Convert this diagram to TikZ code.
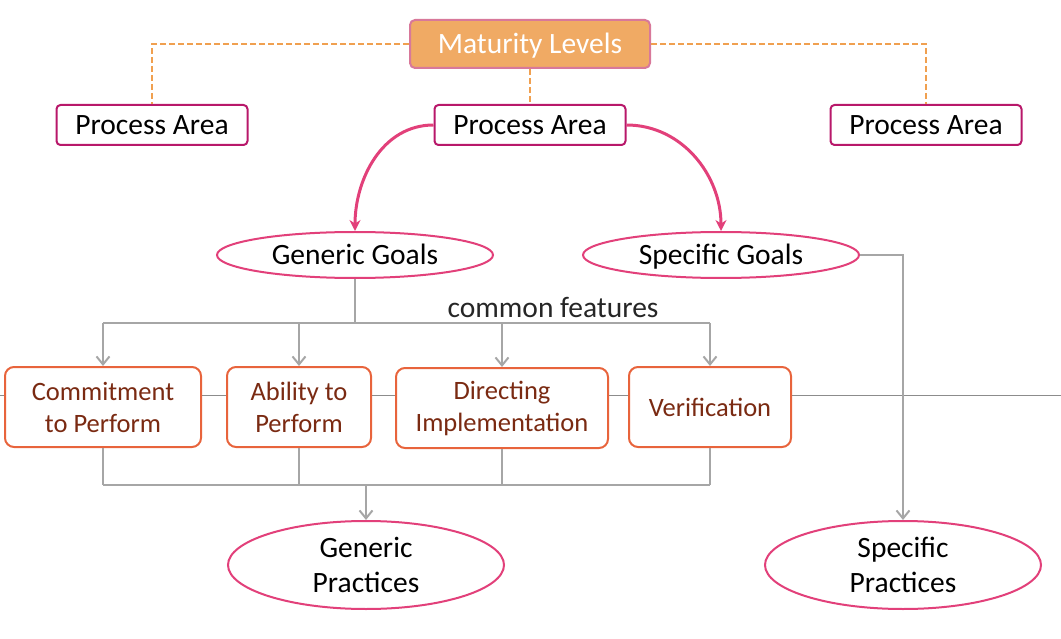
\documentclass[tikz,border=0pt]{standalone}
\usepackage{fontspec}
\setmainfont{Carlito}
\usetikzlibrary{shapes.geometric,arrows.meta}

\definecolor{mlfill}{HTML}{F0AA64}
\definecolor{mlline}{HTML}{D8789A}
\definecolor{paline}{HTML}{B8186A}
\definecolor{goalline}{HTML}{E2407A}
\definecolor{cfline}{HTML}{E8643C}
\definecolor{cftext}{HTML}{7A2A12}
\definecolor{linkgray}{HTML}{A6A6A6}
\definecolor{dashorange}{HTML}{F0A050}

\tikzset{
  pabox/.style={draw=paline, line width=2pt, rounded corners=4pt, fill=white,
    minimum width=191pt, minimum height=40pt, inner sep=0pt,
    text height=22pt, text depth=2pt,
    font=\fontsize{29.5}{34}\selectfont},
  goal/.style={ellipse, draw=goalline, line width=2pt, fill=white,
    minimum width=276pt, minimum height=46pt, inner sep=0pt,
    text height=22pt, text depth=2pt,
    font=\fontsize{29.5}{35}\selectfont},
  practice/.style={ellipse, draw=goalline, line width=2pt, fill=white,
    minimum width=276pt, minimum height=88pt, inner sep=0pt, align=center,
    font=\fontsize{29.5}{35}\selectfont},
  featbox/.style={draw=cfline, line width=2pt, rounded corners=9pt, fill=white,
    minimum height=80pt, inner sep=0pt, align=center, text=cftext,
    font=\fontsize{26.5}{32}\selectfont},
  graylink/.style={draw=linkgray, line width=2pt},
  grayarrow/.style={graylink, -{Straight Barb[length=8pt,width=13pt,line width=2pt]}},
  pinkarrow/.style={draw=goalline, line width=3pt, -{Stealth[length=11pt,width=11pt]}},
  dashlink/.style={draw=dashorange, line width=2.2pt, dash pattern=on 6pt off 3pt}
}

\begin{document}
\begin{tikzpicture}[x=1pt, y=-1pt]
    \useasboundingbox (0,0) rectangle (1061,639);

    % thin rule behind the feature row
    \draw[gray!90, line width=0.8pt] (0,395) -- (1061,395);

    % maturity levels and process areas
    \node[draw=mlline, line width=2pt, fill=mlfill, rounded corners=5pt, text=white,
      minimum width=240pt, minimum height=48pt, inner sep=0pt,
      text height=22pt, text depth=2pt,
      font=\fontsize{29.5}{34}\selectfont] (ml) at (530,44) {Maturity Levels};
    \node[pabox] (paL) at (152,125) {Process Area};
    \node[pabox] (paM) at (530,125) {Process Area};
    \node[pabox] (paR) at (926,125) {Process Area};

    \draw[dashlink] (ml.west) -| (paL.north);
    \draw[dashlink] (ml.east) -| (paR.north);
    \draw[dashlink] (ml.south) -- (paM.north);

    % goals
    \node[goal] (gg) at (355,255) {Generic Goals};
    \node[goal] (sg) at (721,255) {Specific Goals};

    \draw[pinkarrow] (paM.west) to[out=180, in=90] (gg.north);
    \draw[pinkarrow] (paM.east) to[out=0, in=90] (sg.north);

    % common features
    \node[featbox, minimum width=196pt] (commit) at (103,407) {Commitment\\to Perform};
    \node[featbox, minimum width=144pt] (ability) at (299,407) {Ability to\\Perform};
    \node[featbox, minimum width=212pt] (direct) at (502,408) {Directing\\Implementation};
    \node[featbox, minimum width=162pt] (verif) at (710,407) {Verification};

    \coordinate (split) at (355,323);
    \draw[graylink] (gg.south) -- (split);
    \draw[graylink] (commit.north |- split) -- (verif.north |- split);
    \node[font=\fontsize{29.5}{34}\selectfont, text=black!85, anchor=south] (cf) at (553,321) {common features};
    \foreach \feat in {commit, ability, direct, verif}
      \draw[grayarrow] (\feat.north |- split) -- (\feat.north);

    % practices
    \node[practice] (gp) at (366,565) {Generic\\Practices};
    \node[practice] (sp) at (903,565) {Specific\\Practices};

    \coordinate (join) at (366,485);
    \foreach \feat in {commit, ability, direct, verif}
      \draw[graylink] (\feat.south) -- (\feat.south |- join);
    \draw[graylink] (commit.south |- join) -- (verif.south |- join);
    \draw[grayarrow] (join) -- (gp.north);

    \draw[grayarrow] (sg.east) -| (sp.north);
\end{tikzpicture}
\end{document}
